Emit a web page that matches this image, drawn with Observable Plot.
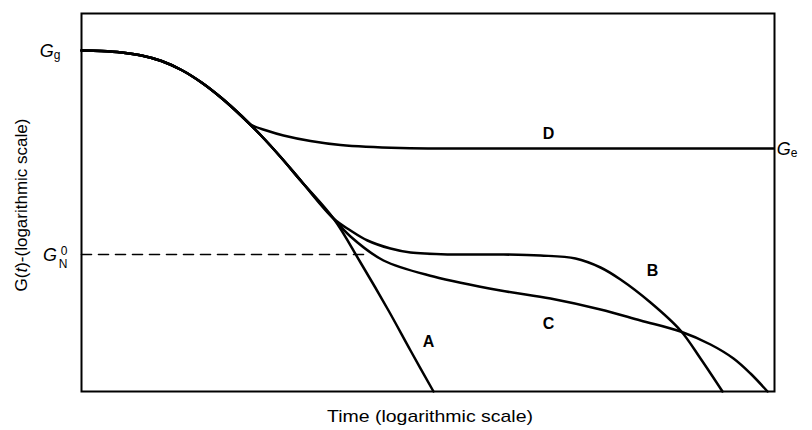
<!DOCTYPE html>
<html><head><meta charset="utf-8">
<script src="https://cdn.jsdelivr.net/npm/d3@7"></script>
<script src="https://cdn.jsdelivr.net/npm/@observablehq/plot@0.6"></script>
<style>body{margin:0;background:#fff}svg text{font-family:"Liberation Sans",Arial,sans-serif}</style>
</head><body><div id="chart"></div>
<script>
// Abstract units: x = log time (0..693), y = log G(t) (0..378)
const mainX = [0, 20, 40, 60, 80, 100, 120, 140, 160, 180, 200, 220, 252];
const mainY = [341, 340.5, 339, 336, 330.5, 321.5, 309, 293.5, 275.5, 255.5, 233.5, 210, 173];
const aTailX = [279, 307, 329, 352];
const aTailY = [129, 81, 41, 0];
const bTailX = [269, 286, 309, 329, 369, 419, 459, 494, 519, 539, 569, 599, 619, 641];
const bTailY = [161, 151, 143, 139, 137, 137, 136, 133, 124, 112, 89, 61, 33, 0];
const cTailX = [269, 302, 352, 419, 469, 519, 559, 599, 629, 652, 669, 686];
const cTailY = [155, 131, 115, 101, 93, 82, 71, 60, 47, 33, 18, 0];
const dTailX = [169, 185, 202, 229, 259, 319, 399, 692];
const dTailY = [267, 261, 256, 250.5, 246.5, 243.5, 243, 243];
const curveNames = ["A", "B", "C", "D"];
const labelX = [347, 571, 467, 467];
const labelY = [50, 121, 68, 258];
const levelGg = 341, levelGe = 243, levelGN0 = 137;
const dashX = [0, 288];
const xTitle = "Time (logarithmic scale)";

function pts(xs, ys, name) { return xs.map((x, i) => ({x, y: ys[i], curve: name})); }
const rows = [
  ...pts(mainX, mainY, "A"), ...pts(aTailX, aTailY, "A"),
  ...pts(mainX, mainY, "B"), ...pts(bTailX, bTailY, "B"),
  ...pts(mainX, mainY, "C"), ...pts(cTailX, cTailY, "C"),
  ...pts(mainX.filter(x => x <= 160), mainY.filter((y, i) => mainX[i] <= 160), "D"), ...pts(dTailX, dTailY, "D")
];
const labels = curveNames.map((n, i) => ({n, x: labelX[i], y: labelY[i]}));
const dash = dashX.map(x => ({x, y: levelGN0}));

const plot = Plot.plot({
  width: 812, height: 430,
  marginLeft: 81, marginTop: 13, marginRight: 38, marginBottom: 39,
  x: {domain: [0, 693], axis: null},
  y: {domain: [0, 378], axis: null},
  style: {fontFamily: "Liberation Sans, Arial, sans-serif", background: "#fff"},
  marks: [
    Plot.line(dash, {x: "x", y: "y", stroke: "#000", strokeWidth: 1.6, strokeDasharray: "10,7"}),
    Plot.line(rows, {x: "x", y: "y", z: "curve", curve: "catmull-rom", stroke: "#000", strokeWidth: 2.5}),
    Plot.text(labels, {x: "x", y: "y", text: "n", fontSize: 16, fontWeight: "bold", fill: "#000"}),
    Plot.frame({stroke: "#000", strokeWidth: 2})
  ]
});
document.getElementById("chart").append(plot);

const svg = d3.select(plot);
const ys = plot.scale("y");
const fs = 18;
// G_g
const yg = ys.apply(levelGg);
let t = svg.append("text").attr("x", 50).attr("y", yg + 6.5).attr("font-size", fs).attr("fill", "#000");
t.append("tspan").attr("font-style", "italic").text("G");
t.append("tspan").attr("font-size", 12).attr("dy", 2).text("g");
// G_e
const ye = ys.apply(levelGe);
t = svg.append("text").attr("x", 787).attr("y", ye + 6.5).attr("font-size", fs).attr("fill", "#000");
t.append("tspan").attr("font-style", "italic").text("G");
t.append("tspan").attr("font-size", 12).attr("dy", 2).text("e");
// G_N^0
const yn = ys.apply(levelGN0);
svg.append("text").attr("x", 50).attr("y", yn + 7).attr("font-size", fs).attr("font-style", "italic").attr("fill", "#000").text("G");
svg.append("text").attr("x", 63).attr("y", yn + 14).attr("font-size", 12).attr("fill", "#000").text("N");
svg.append("text").attr("x", 64).attr("y", yn + 1).attr("font-size", 12).attr("fill", "#000").text("0");
// axis titles
svg.append("text").attr("x", 430).attr("y", 422).attr("text-anchor", "middle").attr("font-size", 17)
  .attr("textLength", 206).attr("lengthAdjust", "spacingAndGlyphs").attr("fill", "#000").text(xTitle);
t = svg.append("text").attr("transform", "translate(27,205) rotate(-90)").attr("text-anchor", "middle")
  .attr("font-size", 17).attr("fill", "#000");
t.append("tspan").text("G(");
t.append("tspan").attr("font-style", "italic").text("t");
t.append("tspan").text(")-(logarithmic scale)");
</script>
</body></html>
